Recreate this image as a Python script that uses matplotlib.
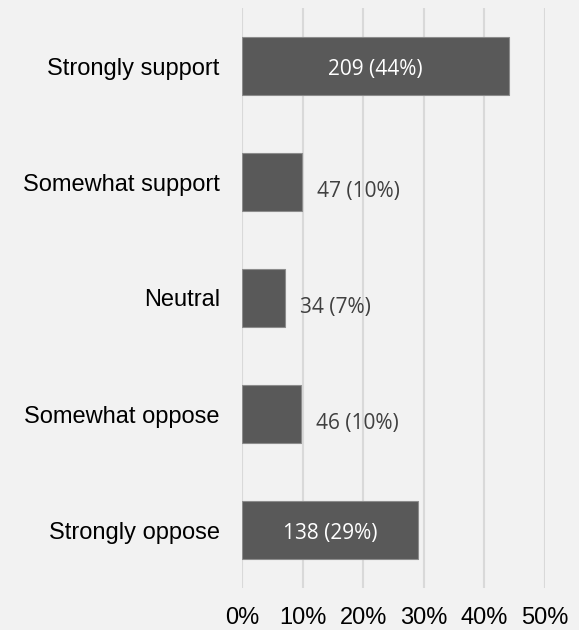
import matplotlib
matplotlib.use("Agg")
import matplotlib.pyplot as plt
from matplotlib.ticker import FuncFormatter

categories = ["Strongly support", "Somewhat support", "Neutral", "Somewhat oppose", "Strongly oppose"]
counts = [209, 47, 34, 46, 138]
tick_values = [0, 0.1, 0.2, 0.3, 0.4, 0.5]

total = sum(counts)
shares = [c / total for c in counts]

fig = plt.figure(figsize=(5.79, 6.30), dpi=100, facecolor="#F2F2F2")
ax = fig.add_axes([242/579, (630-588)/630, (545-242)/579, 580/630])
ax.set_facecolor("#F2F2F2")

ypos = list(range(len(categories)))
ax.barh(ypos, shares, height=0.5, color="#595959", edgecolor="#8C8C8C", linewidth=0.8, zorder=3)
ax.set_ylim(len(categories) - 0.5, -0.5)
ax.set_xlim(tick_values[0], tick_values[-1])
ax.set_xticks(tick_values)
ax.xaxis.set_major_formatter(FuncFormatter(lambda v, p: f"{v*100:.0f}%"))
ax.set_yticks(ypos)
ax.set_yticklabels(categories, fontsize=17, family="Liberation Sans", color="black")
for lab in ax.get_xticklabels():
    lab.set_family("Liberation Sans")
    lab.set_fontsize(17)
ax.tick_params(axis="both", length=0)
ax.tick_params(axis="y", pad=16)
ax.tick_params(axis="x", pad=14)
ax.grid(axis="x", color="#D9D9D9", linewidth=1.5, zorder=0)
for s in ax.spines.values():
    s.set_visible(False)

for y, c, s in zip(ypos, counts, shares):
    txt = f"{c} ({s*100:.0f}%)"
    if s > 0.2:
        ax.annotate(txt, xy=(s / 2, y), xytext=(0, -3), textcoords="offset pixels",
                    ha="center", va="center", color="white",
                    fontsize=15, family="Open Sans", zorder=4)
    else:
        ax.annotate(txt, xy=(s, y), xytext=(15, -10), textcoords="offset pixels",
                    ha="left", va="center", color="#404040", fontsize=15, family="Open Sans", zorder=4)

fig.savefig("out.png", dpi=100, facecolor=fig.get_facecolor())
